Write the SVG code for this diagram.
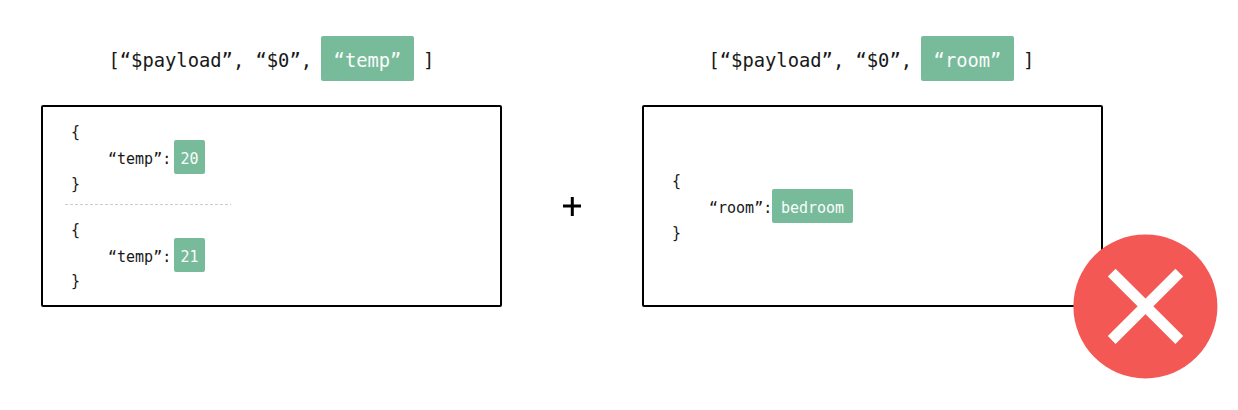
<svg xmlns="http://www.w3.org/2000/svg" width="1238" height="410" viewBox="0 0 1238 410">
<style>
text{font-family:"DejaVu Sans Mono","Liberation Mono",monospace;fill:#111;opacity:.97}
.t{font-size:18.8px}
.s{font-size:15px}
text.w{fill:#fff}
.g{fill:#78bb9b}
.b{fill:#fff;stroke:#000;stroke-width:2}
</style>
<rect width="1238" height="410" fill="#fff"/>
<g id="path-left">
<text class="t" x="108.500" y="66.500">[“$payload”, “$0”,</text>
<rect class="g" x="321" y="36" width="93" height="45" rx="2"/>
<text class="t w" x="367.500" y="66.500" text-anchor="middle">“temp”</text>
<text class="t" x="423" y="66.500">]</text>
</g>
<g id="path-right">
<text class="t" x="708.500" y="66.500">[“$payload”, “$0”,</text>
<rect class="g" x="921" y="36" width="93" height="45" rx="2"/>
<text class="t w" x="967.500" y="66.500" text-anchor="middle">“room”</text>
<text class="t" x="1023" y="66.500">]</text>
</g>
<g id="box-left">
<rect class="b" x="42" y="106" width="459" height="200" rx="1"/>
<text class="s" x="71" y="137">{</text>
<text class="s" x="108" y="163.500">“temp”:</text>
<rect class="g" x="174" y="140" width="31" height="34" rx="2"/>
<text class="s w" x="189.500" y="163.500" text-anchor="middle">20</text>
<text class="s" x="71" y="189">}</text>
<line x1="65" y1="204.500" x2="231" y2="204.500" stroke="#ccc" stroke-width="1" stroke-dasharray="3 2"/>
<text class="s" x="71" y="235">{</text>
<text class="s" x="108" y="261.500">“temp”:</text>
<rect class="g" x="174" y="238" width="31" height="34" rx="2"/>
<text class="s w" x="189.500" y="261.500" text-anchor="middle">21</text>
<text class="s" x="71" y="286">}</text>
</g>
<g id="plus">
<path d="M572.300 197V216M563 206H581" fill="none" stroke="#000" stroke-width="3"/>
</g>
<g id="box-right">
<rect class="b" x="643" y="106" width="459" height="200" rx="1"/>
<text class="s" x="672" y="186">{</text>
<text class="s" x="709" y="212.500">“room”:</text>
<rect class="g" x="772" y="189" width="81" height="34" rx="2"/>
<text class="s w" x="812.500" y="212.500" text-anchor="middle">bedroom</text>
<text class="s" x="672" y="238">}</text>
</g>
<g id="error">
<circle cx="1145.400" cy="306.400" r="72" fill="#f45855"/>
<path d="M1111.700 272.700L1179.300 340M1179.300 272.700L1111.700 340" fill="none" stroke="#fff" stroke-width="11"/>
</g>
</svg>
